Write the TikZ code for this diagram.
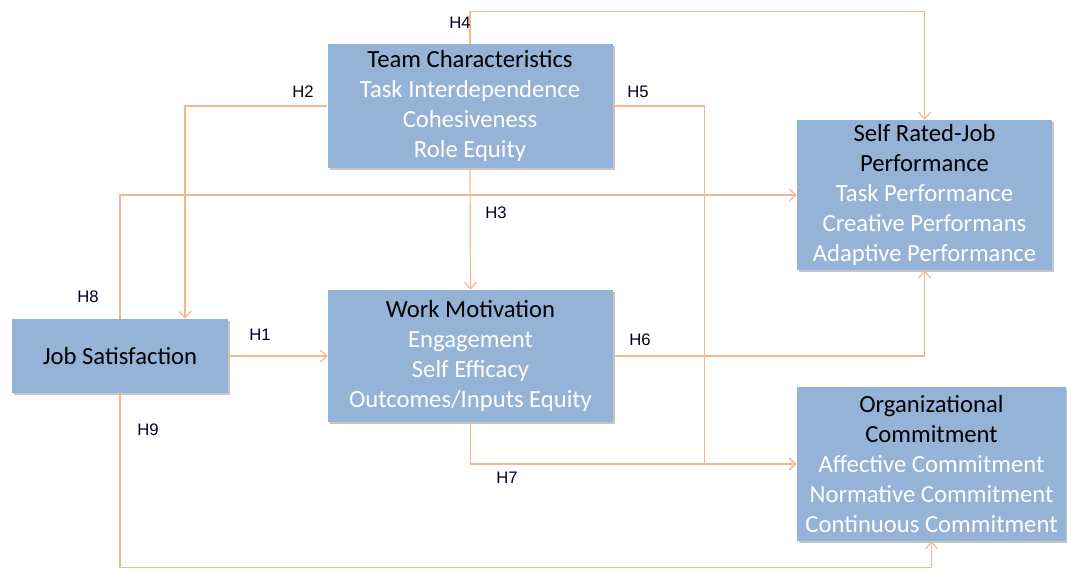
\documentclass[tikz,border=0pt]{standalone}
\usepackage{fontspec}
\setmainfont{Carlito}
\newfontfamily\hfont{Liberation Sans}
\usetikzlibrary{arrows.meta,shadows,calc}

\begin{document}
\begin{tikzpicture}[x=0.75pt, y=-0.75pt,
  box/.style={fill=BoxBlue, draw=none, align=center, inner sep=0pt,
    font=\fontsize{18.5}{22.5}\selectfont, text=white,
    drop shadow={shadow xshift=1.5pt, shadow yshift=-1.5pt, opacity=0.45}},
  link/.style={LinkOrange, line width=0.9pt, -{Straight Barb[length=5pt,width=9pt]}},
  hyp/.style={font=\hfont\fontsize{12.5}{14}\selectfont, text=black!85!blue}]
\definecolor{BoxBlue}{HTML}{95B3D7};
\definecolor{LinkOrange}{HTML}{F4B890};

\useasboundingbox (0,0) rectangle (1067,572);

% boxes
\node[box, minimum width=285*0.75pt, minimum height=124*0.75pt] (team) at (470,106)
  {\textcolor{black}{Team Characteristics}\\Task Interdependence\\Cohesiveness\\Role Equity};
\node[box, minimum width=255*0.75pt, minimum height=150*0.75pt] (perf) at (924.5,195)
  {\textcolor{black}{Self Rated-Job}\\\textcolor{black}{Performance}\\Task Performance\\Creative Performans\\Adaptive Performance};
\node[box, minimum width=216*0.75pt, minimum height=74*0.75pt] (jobsat) at (120,356)
  {\textcolor{black}{Job Satisfaction}};
\node[box, minimum width=285*0.75pt, minimum height=132*0.75pt] (motiv) at (470.5,356)
  {\textcolor{black}{Work Motivation}\\Engagement\\Self Efficacy\\Outcomes/Inputs Equity};
\node[box, minimum width=269*0.75pt, minimum height=154*0.75pt] (commit) at (931.5,464)
  {\textcolor{black}{Organizational}\\\textcolor{black}{Commitment}\\Affective Commitment\\Normative Commitment\\Continuous Commitment};

% arrows
\draw[link] (jobsat.east) -- (motiv.west);
\draw[link] (team.west) -| ($(jobsat.north)+(65,0)$);
\draw[link] (team.south) -- (motiv.north);
\draw[link] (team.north) -- ++(0,-32) -| (perf.north);
\draw[link] (team.east) -- ++(92,0) |- (commit.west);
\draw[link] (motiv.east) -| (perf.south);
\draw[link] (motiv.south) |- (commit.west);
\draw[link] (jobsat.north) |- (perf.west);
\draw[link] (jobsat.south) -- ++(0,174) -| (commit.south);

% labels
\node[hyp] (h1) at (260,335) {H1};
\node[hyp] (h2) at (303,92) {H2};
\node[hyp] (h3) at (496,213) {H3};
\node[hyp] (h4) at (460,23) {H4};
\node[hyp] (h5) at (638,92) {H5};
\node[hyp] (h6) at (640,340) {H6};
\node[hyp] (h7) at (507,478) {H7};
\node[hyp] (h8) at (88,297) {H8};
\node[hyp] (h9) at (148,430) {H9};
\end{tikzpicture}
\end{document}
